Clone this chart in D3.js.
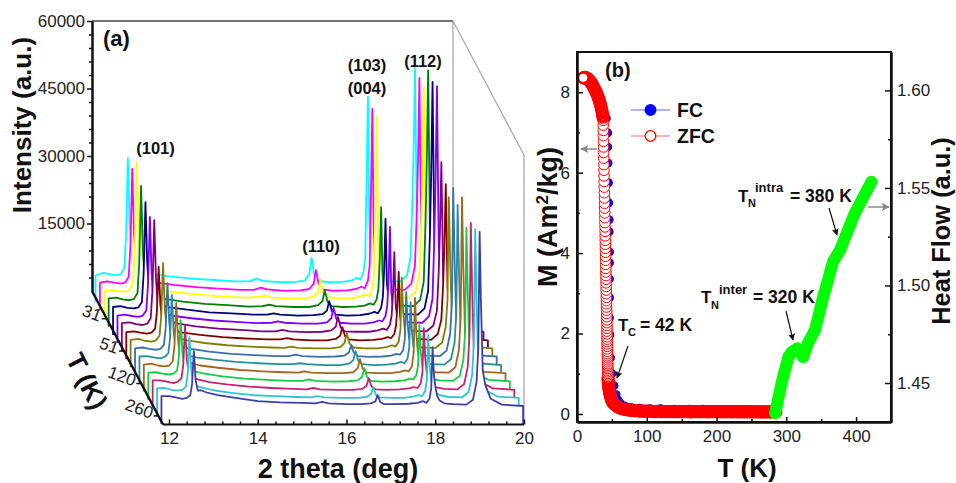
<!DOCTYPE html>
<html>
<head>
<meta charset="utf-8">
<script src="https://cdn.jsdelivr.net/npm/d3@7"></script>
<style>
  body { margin: 0; background: #fff; }
  text { font-family: "Liberation Sans", Arial, sans-serif; }
  .tick text { font-size: 17px; fill: #222; }
  .bold { font-weight: bold; fill: #111; }
</style>
</head>
<body>
<svg id="chart"></svg>
<script>
// panel (a): two theta grid shared by all traces, intensity in thousands of counts
const theta = [11.83, 12.0, 12.15, 12.3, 12.4,
  12.48, 12.52, 12.56, 12.6, 12.65, 12.72,
  12.85, 13.1, 13.5, 14, 14.5, 15, 15.3, 15.45, 15.6, 16, 16.35,
  16.55, 16.65, 16.7, 16.76, 16.85,
  17.1, 17.4, 17.6, 17.72, 17.8,
  17.87, 17.91, 17.94, 17.97, 18.0, 18.04, 18.1, 18.2,
  18.4, 18.7,
  18.85, 18.93, 18.97, 19.0, 19.03, 19.07, 19.13, 19.25,
  19.5, 19.98];

// back (cyan) to front (blue)
const traces = [
  [6.0,6.6,6.3,6.1,6.3, 7.6,15,32.1,17.8,9.2,7.6, 7.0,6.3,5.8,5.3,5.0,4.7,4.7,5.3,4.8,4.5,4.6, 4.9,6.4,9.9,6.2,4.8, 4.5,4.6,4.9,5.5,5.1, 6.8,10,28,45.7,19,9,6.8,5.4, 4.8,4.7, 6,10,22,34,52.1,20,9.5,6.2, 5,4.6],
  [6.2,6.5,6.2,6.0,6.2, 7.5,14.6,31.5,17.2,9.0,7.5, 6.9,6.2,5.7,5.2,4.9,4.6,4.6,5.1,4.7,4.4,4.5, 4.8,6.0,9.0,5.9,4.7, 4.4,4.5,4.8,5.3,5.0, 6.6,10,26,44.8,18.5,9,6.7,5.3, 4.7,4.6, 6,10,21,33,51.7,20,9.4,6.1, 4.9,4.5],
  [6.1,6.4,6.1,6.0,6.3, 8,16,34.8,19,9.6,7.7, 7.0,6.3,5.8,5.3,4.9,4.7,4.8,5.2,4.7,4.5,4.5, 4.9,5.9,8.8,5.8,4.8, 4.5,4.5,4.9,5.4,5.0, 6.7,10,25,45,18,8.8,6.6,5.4, 4.8,4.7, 6,10,20,32,51.5,20,9.3,6.1, 5,4.6],
  [6.3,6.5,6.1,5.9,6.2, 7.5,14.5,31.3,17,8.9,7.4, 6.8,6.2,5.6,5.1,4.8,4.5,4.6,4.9,4.6,4.4,4.4, 4.8,5.7,8.2,5.6,4.6, 4.4,4.5,4.7,5.2,4.9, 6.1,8.6,15,26.6,12,7.6,6,5.1, 4.7,4.6, 6,10,23,37,57,22,10,6.3, 5,4.5],
  [6.2,6.4,6.0,5.9,6.1, 7.3,13.8,29.5,16,8.6,7.3, 6.8,6.1,5.6,5.0,4.8,4.5,4.5,4.8,4.5,4.3,4.4, 4.6,5.4,7.5,5.3,4.5, 4.3,4.4,4.7,5.1,4.8, 6,8.4,14.5,25.8,11.8,7.5,6,5, 4.6,4.5, 5.9,9.8,22,36,56.2,22,10,6.2, 4.9,4.5],
  [6.1,6.3,6.0,5.8,6.1, 7.2,13.2,28,15.4,8.4,7.2, 6.7,6.0,5.5,5.0,4.7,4.4,4.5,4.8,4.5,4.3,4.3, 4.6,5.5,7.8,5.4,4.5, 4.3,4.3,4.6,5.0,4.8, 6,8.3,14.3,25.8,11.6,7.4,5.9,5, 4.6,4.5, 5.9,9.8,23,37,57.1,22,10,6.2, 4.9,4.4],
  [6.2,6.4,6.0,5.8,6.1, 7.3,13.6,29.1,15.9,8.5,7.2, 6.8,6.1,5.5,5.0,4.7,4.4,4.4,4.7,4.4,4.2,4.3, 4.6,5.4,7.6,5.3,4.4, 4.3,4.3,4.6,5.0,4.7, 5.8,7.9,12.8,22,10.4,7,5.7,4.9, 4.5,4.4, 5.7,9,17.5,27.5,42,17,8.8,5.9, 4.7,4.3],
  [6.0,6.2,5.9,5.7,5.9, 6.8,10.4,20.5,12,7.5,6.8, 6.5,5.9,5.4,4.9,4.6,4.4,4.4,4.7,4.4,4.2,4.2, 4.5,5.2,7.1,5.1,4.4, 4.2,4.3,4.5,4.9,4.7, 5.6,7.5,11.8,19.4,9.6,6.7,5.5,4.8, 4.5,4.3, 5.6,8.8,16.3,25.6,38.9,16,8.4,5.8, 4.6,4.2],
  [6.1,6.3,5.9,5.7,6.0, 7,11.4,23.2,13,7.8,6.9, 6.6,6.0,5.4,4.9,4.6,4.4,4.3,4.6,4.3,4.2,4.2, 4.5,5.4,7.6,5.3,4.4, 4.2,4.2,4.5,4.9,4.6, 5.7,8.4,19.9,12.5,9,6.6,5.5,4.8, 4.4,4.3, 5.5,9,15,37.8,24,11,8.2,5.7, 4.6,4.2],
  [6.0,6.2,5.9,5.7,5.9, 6.8,10.5,20.5,11.9,7.5,6.8, 6.4,5.9,5.3,4.8,4.5,4.3,4.3,4.6,4.3,4.1,4.2, 4.4,5.1,6.7,5.0,4.3, 4.1,4.2,4.4,4.8,4.6, 5.6,8.1,18.5,11.8,8.6,6.4,5.4,4.7, 4.4,4.3, 5.5,9.2,16,41.6,26,11.7,8.5,5.7, 4.5,4.2],
  [6.0,6.1,5.8,5.6,5.9, 6.7,10.2,19.7,11.5,7.4,6.7, 6.4,5.8,5.3,4.8,4.5,4.3,4.3,4.5,4.3,4.1,4.1, 4.4,5.2,7.2,5.1,4.3, 4.1,4.2,4.4,4.8,4.5, 5.5,8,18.1,11.5,8.5,6.3,5.3,4.7, 4.3,4.2, 5.4,9,15.4,39.7,25,11.3,8.3,5.6, 4.5,4.1],
  [6.0,6.2,5.8,5.6,5.8, 6.7,10.2,19.7,11.6,7.4,6.7, 6.4,5.8,5.3,4.8,4.5,4.3,4.2,4.5,4.2,4.1,4.1, 4.3,5.2,7.2,5.1,4.2, 4.1,4.1,4.4,4.7,4.5, 5.6,8.6,20.8,13,9.2,6.6,5.4,4.7, 4.3,4.2, 5.4,9.3,16.6,43.2,27,12,8.7,5.7, 4.4,4.1],
  [6.0,6.1,5.8,5.6,5.8, 6.5,9.4,17.7,10.5,7.1,6.6, 6.3,5.8,5.2,4.7,4.4,4.2,4.2,4.5,4.2,4.0,4.1, 4.3,5.1,7,5,4.2, 4,4.1,4.3,4.7,4.5, 5.4,7.6,16.6,10.8,8,6.2,5.2,4.6, 4.3,4.2, 5.3,8.8,14.9,38.2,24,11,8.1,5.5, 4.4,4.1],
  [6.1,6.1,5.8,5.5,5.8, 6.6,9.6,18.2,10.7,7.2,6.6, 6.3,5.7,5.2,4.7,4.4,4.2,4.1,4.4,4.1,4,4, 4.2,4.9,6.6,4.8,4.1, 4,4.1,4.3,4.6,4.4, 5.4,7.9,17.7,11.4,8.3,6.3,5.2,4.6, 4.2,4.1, 5.3,9.1,16,41.1,26,11.6,8.4,5.6, 4.3,4],
  [6.1,6.2,5.8,5.6,5.8, 6.5,9.3,17.5,10.3,7.1,6.6, 6.3,5.7,5.1,4.6,4.4,4.2,4.1,4.4,4.1,4,4, 4.2,4.8,6.4,4.7,4.1, 4,4,4.3,4.6,4.4, 5.4,8,18,11.5,8.4,6.3,5.2,4.6, 4.2,4.1, 5.3,9.1,16.2,41.5,26,11.7,8.4,5.6, 4.3,4],
  [6.2,6.2,5.9,5.6,5.8, 6.4,8.9,16.2,9.8,7.4,7.5, 7,6.4,5.8,5.1,4.8,4.7,4.6,4.9,4.6,4.4,4.4, 4.6,5,6.4,4.9,4.4, 4.4,4.5,4.7,5.1,4.7, 5.6,7.9,17.1,11,8.4,6.3,5.2,4.6, 4.4,4.3, 5.4,9.3,16.6,42.7,27,12,8.6,5.6, 4.3,4]
];

const traceColors = ['#00ffff', '#ff00ff', '#ffff00', '#008000', '#000080', '#8000ff', '#800080', '#800000',
  '#808000', '#3a6fb0', '#25909a', '#a5651e', '#14cc44', '#c4246e', '#2ec4cf', '#3b3fa8'];

const thetaTicks = [12, 14, 16, 18, 20];
const thetaMinor = [12.4, 12.8, 13.2, 13.6, 14.4, 14.8, 15.2, 15.6, 16.4, 16.8, 17.2, 17.6, 18.4, 18.8, 19.2, 19.6];
const intensityTicks = [15, 30, 45, 60];
const intensityMinor = [3, 6, 9, 12, 18, 21, 24, 27, 33, 36, 39, 42, 48, 51, 54, 57];
const tempLabels = ['31', '51', '120', '260'];
const tempTraceIndex = [2, 6, 10, 14];

// panel (b): [T, M]
const fcPoints = [[10,8.3],[14,8.28],[18,8.2],[22,8.1],[26,8.0],[30,7.87],[34,7.72],[38,7.55],[42,7.35],
  [44,6.99],[44,6.64],[44.5,6.24],[45,5.75],[45.5,5.25],[46,4.83],[46,4.53],[46.5,4.03],[46.5,3.76],
  [46.5,3.36],[46.5,2.89],[46.5,2.39],[47,1.97],[48,1.4],[50,1.0],[53,0.7],[56,0.48],[59,0.34],[62,0.26],
  [68,0.2],[77,0.16],[90,0.14],[105,0.13],[120,0.13],[140,0.12],[160,0.12],[180,0.12],[200,0.11],[220,0.11],
  [240,0.1],[260,0.09],[280,0.08]];

const zfcPoints = [[9,8.36],[10.5,8.37],[12,8.37],[13.5,8.36],[15,8.34],[16.5,8.32],[18,8.29],[19.5,8.26],[21,8.22],
  [22.2,8.18],[23.4,8.14],[24.6,8.1],[25.8,8.06],[27,8.02],[28,7.98],[29,7.94],[30,7.89],[31,7.84],[32,7.79],
  [32.8,7.74],[33.6,7.69],[34.4,7.64],[35,7.59],[35.6,7.54],[36.2,7.49],[36.8,7.43],[37.2,7.38],
  [37.6,7.3],[37.6,7.18],[37.7,7.05],[37.8,6.92],[37.9,6.78],[38,6.64],[38.2,6.5],[38.3,6.36],[38.5,6.2],[38.6,6.06],
  [38.8,5.92],[38.9,5.78],[39,5.64],[39.2,5.5],[39.4,5.37],[39.5,5.24],[39.6,5.12],[39.8,5.0],[39.9,4.88],[40,4.76],
  [40.2,4.65],[40.3,4.54],[40.4,4.43],[40.5,4.32],[40.6,4.22],[40.7,4.12],[40.9,4.02],[41,3.92],[41.1,3.82],[41.2,3.72],
  [41.3,3.62],[41.4,3.53],[41.5,3.44],[41.6,3.35],[41.7,3.26],[41.8,3.17],[41.9,3.08],[42,2.99],[42.1,2.9],[42.2,2.82],
  [42.3,2.74],[42.4,2.66],[42.5,2.58],[42.6,2.5],[42.7,2.42],[42.8,2.34],[42.8,2.27],[42.9,2.2],[43,2.13],[43,2.06],
  [43.1,1.99],[43.2,1.92],[43.2,1.86],[43.3,1.8],[43.3,1.74],[43.4,1.68],[43.4,1.62],[43.5,1.56],[43.6,1.5],[43.6,1.45],
  [43.7,1.4],[43.8,1.35],[43.8,1.3],[43.9,1.25],[44,1.21],[44,1.17],[44.1,1.13],[44.2,1.09],[44.2,1.05],[44.3,1.01],
  [44.4,0.97],[44.4,0.93],[44.5,0.89],[44.6,0.85],[44.8,0.81],[45,0.77],[45.2,0.73],[45.4,0.69],[45.7,0.65],[46,0.61],
  [46.4,0.57],[46.8,0.53],[47.3,0.49],[47.9,0.45],[48.5,0.41],[49.2,0.37],[50,0.33],[51,0.3],[52,0.27],[53.2,0.25],
  [54.5,0.23],[56,0.21],[57.5,0.19],[59,0.17],[61,0.16],[63,0.14],[65,0.13],[67.5,0.12],[70,0.11],[72.5,0.1],[75,0.1],
  [77.5,0.09],[80,0.09],[82.5,0.08],[85,0.08],[87.5,0.08],[90,0.07],[92.5,0.07],[95,0.07],[97.5,0.07],[100,0.07],
  [102.5,0.07],[105,0.07],[107.5,0.06],[110,0.06],[112.5,0.06],[115,0.06],[117.5,0.07],[120,0.06],[122.5,0.06],[125,0.06],
  [127.5,0.06],[130,0.06],[132.5,0.06],[135,0.06],[137.5,0.06],[140,0.06],[142.5,0.06],[145,0.06],[147.5,0.06],[150,0.06],
  [152.5,0.06],[155,0.06],[157.5,0.06],[160,0.06],[162.5,0.05],[165,0.06],[167.5,0.06],[170,0.06],[172.5,0.06],[175,0.06],
  [177.5,0.06],[180,0.06],[182.5,0.06],[185,0.06],[187.5,0.05],[190,0.06],[192.5,0.06],[195,0.06],[197.5,0.06],[200,0.06],
  [202.5,0.06],[205,0.05],[207.5,0.06],[210,0.06],[212.5,0.06],[215,0.05],[217.5,0.06],[220,0.06],[222.5,0.05],[225,0.06],
  [227.5,0.06],[230,0.05],[232.5,0.06],[235,0.05],[237.5,0.06],[240,0.05],[242.5,0.06],[245,0.05],[247.5,0.06],[250,0.05],
  [252.5,0.05],[255,0.06],[257.5,0.05],[260,0.05],[262.5,0.05],[265,0.05],[267.5,0.05],[270,0.05],[272.5,0.05],[275,0.05],
  [277.5,0.05],[280,0.05],[282.5,0.05],[285,0.05]];

// [T, heat flow]
const heatPoints = [[284,1.4345],[293,1.4498],[303,1.4635],[308,1.466],[316,1.4678],[324,1.4632],[331,1.4704],
  [341,1.4772],[353,1.4943],[367,1.5122],[377,1.5182],[398,1.537],[422,1.5532]];

const tTicks = [0, 100, 200, 300, 400];
const tMinor = [50, 150, 250, 350, 450];
const mTicks = [0, 2, 4, 6, 8];
const mMinor = [1, 3, 5, 7];
const heatTicks = [1.45, 1.5, 1.55, 1.6];
const heatMinor = [1.475, 1.525, 1.575];

const width = 956;
const height = 483;

const svg = d3.select('#chart')
  .attr('width', width)
  .attr('height', height);

svg.append('defs').selectAll('marker')
  .data([['black', '#111', 8, 7], ['gray', '#888', 9, 8]])
  .join('marker')
  .attr('id', (d) => `head-${d[0]}`)
  .attr('markerUnits', 'userSpaceOnUse')
  .attr('viewBox', '0 0 10 10')
  .attr('refX', 9)
  .attr('refY', 5)
  .attr('markerWidth', (d) => d[2])
  .attr('markerHeight', (d) => d[3])
  .attr('orient', 'auto')
  .append('path')
  .attr('d', 'M0,0L10,5L0,10L2,5Z')
  .attr('fill', (d) => d[1]);

function styleAxis(sel, color, w) {
  sel.selectAll('.domain').attr('stroke', color).attr('stroke-width', w);
  sel.selectAll('.tick line').attr('stroke', color).attr('stroke-width', 1.5);
}

function addText(x, y, str, size, extra) {
  const t = svg.append('text')
    .attr('x', x)
    .attr('y', y)
    .attr('class', 'bold')
    .style('font-size', `${size}px`)
    .text(str);
  if (extra) extra(t);
  return t;
}

/////////////////////////
// panel (a)

const xTheta = d3.scaleLinear().domain([12, 20]).range([169, 524]);
const yCounts = d3.scaleLinear().domain([0, 60]).range([291, 21]);
// depth shift of each trace relative to the back wall / front plane
const depthX = d3.scaleLinear().domain([0, 15]).range([-66, 0]);
const depthY = d3.scaleLinear().domain([0, 15]).range([11.5, 133]);

const wallLeft = 92;
const wallShift = 71 / 133;

// thin gray back frame
svg.append('path')
  .attr('d', 'M453,21L453,291M453,21L524,155L524,424')
  .attr('fill', 'none')
  .attr('stroke', '#aaa')
  .attr('stroke-width', 1.3);
svg.append('line')
  .attr('x1', wallLeft).attr('x2', 453)
  .attr('y1', 21).attr('y2', 21)
  .attr('stroke', '#444')
  .attr('stroke-width', 1.3);

traces.forEach((values, i) => {
  const pts = theta.map((t, k) => [t, values[k]]);
  const closed = [[theta[0], 0], ...pts, [theta[theta.length - 1], 0]];
  const line = d3.line()
    .x((d) => xTheta(d[0]) + depthX(i))
    .y((d) => yCounts(d[1]) + depthY(i));
  svg.append('path')
    .attr('d', line(closed))
    .attr('fill', '#fff')
    .attr('stroke', traceColors[i])
    .attr('stroke-width', 1.8)
    .attr('stroke-linejoin', 'round');
});

const yAxisA = svg.append('g')
  .attr('transform', `translate(${wallLeft},0)`)
  .call(d3.axisLeft(yCounts).tickValues(intensityTicks).tickSizeOuter(0).tickSizeInner(5).tickPadding(2)
    .tickFormat((d) => d * 1000));
styleAxis(yAxisA, '#111', 2);
const yMinorA = svg.append('g')
  .attr('transform', `translate(${wallLeft},0)`)
  .call(d3.axisLeft(yCounts).tickValues(intensityMinor).tickSizeOuter(0).tickSizeInner(3).tickFormat(''));
styleAxis(yMinorA, '#111', 2);

// slanted temperature axis
svg.append('line')
  .attr('x1', wallLeft).attr('y1', yCounts(0))
  .attr('x2', 163).attr('y2', 424.5)
  .attr('stroke', '#111')
  .attr('stroke-width', 2.4);

tempLabels.forEach((label, k) => {
  const dy = depthY(tempTraceIndex[k]);
  const wy = yCounts(0) + dy;
  const wx = wallLeft + dy * wallShift;
  svg.append('line')
    .attr('x1', wx - 5).attr('x2', wx)
    .attr('y1', wy).attr('y2', wy)
    .attr('stroke', '#111')
    .attr('stroke-width', 1.5);
  svg.append('text')
    .attr('transform', `translate(${wx - 8},${wy + 3}) rotate(20)`)
    .attr('text-anchor', 'end')
    .style('font-size', '17px')
    .attr('fill', '#222')
    .text(label);
});

const xAxisA = svg.append('g')
  .attr('transform', 'translate(0,424.5)')
  .call(d3.axisBottom(xTheta).tickValues(thetaTicks).tickSizeOuter(0).tickSizeInner(-5).tickPadding(7));
xAxisA.select('.domain').attr('d', 'M163,0H524');
styleAxis(xAxisA, '#111', 2.2);
const xMinorA = svg.append('g')
  .attr('transform', 'translate(0,424.5)')
  .call(d3.axisBottom(xTheta).tickValues(thetaMinor).tickSizeOuter(0).tickSizeInner(-3).tickFormat(''));
xMinorA.select('.domain').remove();
styleAxis(xMinorA, '#111', 2.2);

addText(-125, 31, 'Intensity (a.u.)', 26, (t) => t.attr('transform', 'rotate(-90)').attr('text-anchor', 'middle'));
addText(338, 478, '2 theta (deg)', 27, (t) => t.attr('text-anchor', 'middle'));
addText(0, 0, 'T (K)', 26, (t) => t.attr('transform', 'translate(87,381) rotate(63)').attr('text-anchor', 'middle').attr('dy', '0.35em'));
addText(103, 46, '(a)', 22);
addText(155.5, 154, '(101)', 16.5, (t) => t.attr('text-anchor', 'middle'));
addText(321, 252, '(110)', 16.5, (t) => t.attr('text-anchor', 'middle'));
addText(367, 71, '(103)', 16.5, (t) => t.attr('text-anchor', 'middle'));
addText(367, 94, '(004)', 16.5, (t) => t.attr('text-anchor', 'middle'));
addText(423, 67, '(112)', 16.5, (t) => t.attr('text-anchor', 'middle'));

/////////////////////////
// panel (b)

const xTemp = d3.scaleLinear().domain([0, 450]).range([577, 891]);
const yMoment = d3.scaleLinear().domain([-0.2, 9]).range([422, 52]);
const yHeat = d3.scaleLinear().domain([1.43, 1.6197]).range([422, 52]);

// FC below ZFC below heat flow
const fcLine = d3.line().x((d) => xTemp(d[0])).y((d) => yMoment(d[1]));
svg.append('path')
  .attr('d', fcLine(fcPoints))
  .attr('fill', 'none')
  .attr('stroke', '#0000ff')
  .attr('stroke-width', 1);
svg.append('g').selectAll('circle')
  .data(fcPoints)
  .join('circle')
  .attr('cx', (d) => xTemp(d[0]))
  .attr('cy', (d) => yMoment(d[1]))
  .attr('r', 4.5)
  .attr('fill', '#0000ff');

// lowest temperature ends up on top, as in the reference
svg.append('g').selectAll('circle')
  .data(zfcPoints.slice().reverse())
  .join('circle')
  .attr('cx', (d) => xTemp(d[0]))
  .attr('cy', (d) => yMoment(d[1]))
  .attr('r', 5.3)
  .attr('fill', '#fff')
  .attr('stroke', '#ff0000')
  .attr('stroke-width', (d) => (d[1] > 0.9 && d[1] < 7.35 ? 1 : 2.6));

const heatLine = d3.line().x((d) => xTemp(d[0])).y((d) => yHeat(d[1]));
svg.append('path')
  .attr('d', heatLine(heatPoints))
  .attr('fill', 'none')
  .attr('stroke', '#00ff00')
  .attr('stroke-width', 12)
  .attr('stroke-linecap', 'round')
  .attr('stroke-linejoin', 'round');

// frame
svg.append('rect')
  .attr('x', 577).attr('y', 52)
  .attr('width', 314).attr('height', 370)
  .attr('fill', 'none')
  .attr('stroke', '#111')
  .attr('stroke-width', 2);

const xAxisB = svg.append('g')
  .attr('transform', 'translate(0,422)')
  .call(d3.axisBottom(xTemp).tickValues(tTicks).tickSizeOuter(0).tickSizeInner(-5).tickPadding(8));
styleAxis(xAxisB, '#111', 2);
const xMinorB = svg.append('g')
  .attr('transform', 'translate(0,422)')
  .call(d3.axisBottom(xTemp).tickValues(tMinor).tickSizeOuter(0).tickSizeInner(-3).tickFormat(''));
styleAxis(xMinorB, '#111', 2);

const yAxisB = svg.append('g')
  .attr('transform', 'translate(577,0)')
  .call(d3.axisLeft(yMoment).tickValues(mTicks).tickSizeOuter(0).tickSizeInner(-6).tickPadding(7));
styleAxis(yAxisB, '#111', 2);
const yMinorB = svg.append('g')
  .attr('transform', 'translate(577,0)')
  .call(d3.axisLeft(yMoment).tickValues(mMinor).tickSizeOuter(0).tickSizeInner(-3).tickFormat(''));
styleAxis(yMinorB, '#111', 2);

const yAxisR = svg.append('g')
  .attr('transform', 'translate(891,0)')
  .call(d3.axisRight(yHeat).tickValues(heatTicks).tickSizeOuter(0).tickSizeInner(-6).tickPadding(6)
    .tickFormat(d3.format('.2f')));
styleAxis(yAxisR, '#111', 2);
const yMinorR = svg.append('g')
  .attr('transform', 'translate(891,0)')
  .call(d3.axisRight(yHeat).tickValues(heatMinor).tickSizeOuter(0).tickSizeInner(-3).tickFormat(''));
styleAxis(yMinorR, '#111', 2);

addText(747, 477, 'T (K)', 26, (t) => t.attr('text-anchor', 'middle'));
addText(-231, 950, 'Heat Flow (a.u.)', 25.4, (t) => t.attr('transform', 'rotate(-90)').attr('text-anchor', 'middle'));
addText(-217, 557, 'M (Am', 27, (t) => {
  t.attr('transform', 'rotate(-90)').attr('text-anchor', 'middle');
  t.append('tspan').attr('dy', -9).style('font-size', '17px').text('2');
  t.append('tspan').attr('dy', 9).text('/kg)');
});
addText(605, 77, '(b)', 20);

// legend
const legendRows = [['FC', 110, '#0000ff', '#0000ff', '#5a6cff'], ['ZFC', 136, '#fff', '#ff0000', '#ff6a6a']];
legendRows.forEach((row) => {
  svg.append('line')
    .attr('x1', 631).attr('x2', 670)
    .attr('y1', row[1]).attr('y2', row[1])
    .attr('stroke', row[4])
    .attr('stroke-width', 1.2);
  svg.append('circle')
    .attr('cx', 650.5).attr('cy', row[1])
    .attr('r', 5.3)
    .attr('fill', row[2])
    .attr('stroke', row[3])
    .attr('stroke-width', 1.3);
  addText(677, row[1] + 7, row[0], 19.5);
});

// annotations
addText(618, 331, 'T', 17);
addText(628, 336, 'C', 11);
addText(640, 331, '= 42 K', 17.5);
addText(701, 303, 'T', 17);
addText(711, 309, 'N', 11);
addText(719, 294, 'inter', 13);
addText(753, 303, '= 320 K', 17.5);
addText(738, 202, 'T', 17);
addText(748, 207, 'N', 11);
addText(755, 192, 'intra', 13);
addText(790, 202, '= 380 K', 17.5);

const arrows = [
  [628, 346, 617, 378, 'black', 1.2],
  [786, 311, 793, 340, 'black', 1.2],
  [829, 208, 837, 235, 'black', 1.2],
  [597, 149, 581, 149, 'gray', 1.5],
  [868, 207, 889, 207, 'gray', 1.5]
];
arrows.forEach((a) => {
  svg.append('line')
    .attr('x1', a[0]).attr('y1', a[1])
    .attr('x2', a[2]).attr('y2', a[3])
    .attr('stroke', a[4] === 'black' ? '#111' : '#888')
    .attr('stroke-width', a[5])
    .attr('marker-end', `url(#head-${a[4]})`);
});
</script>
</body>
</html>
